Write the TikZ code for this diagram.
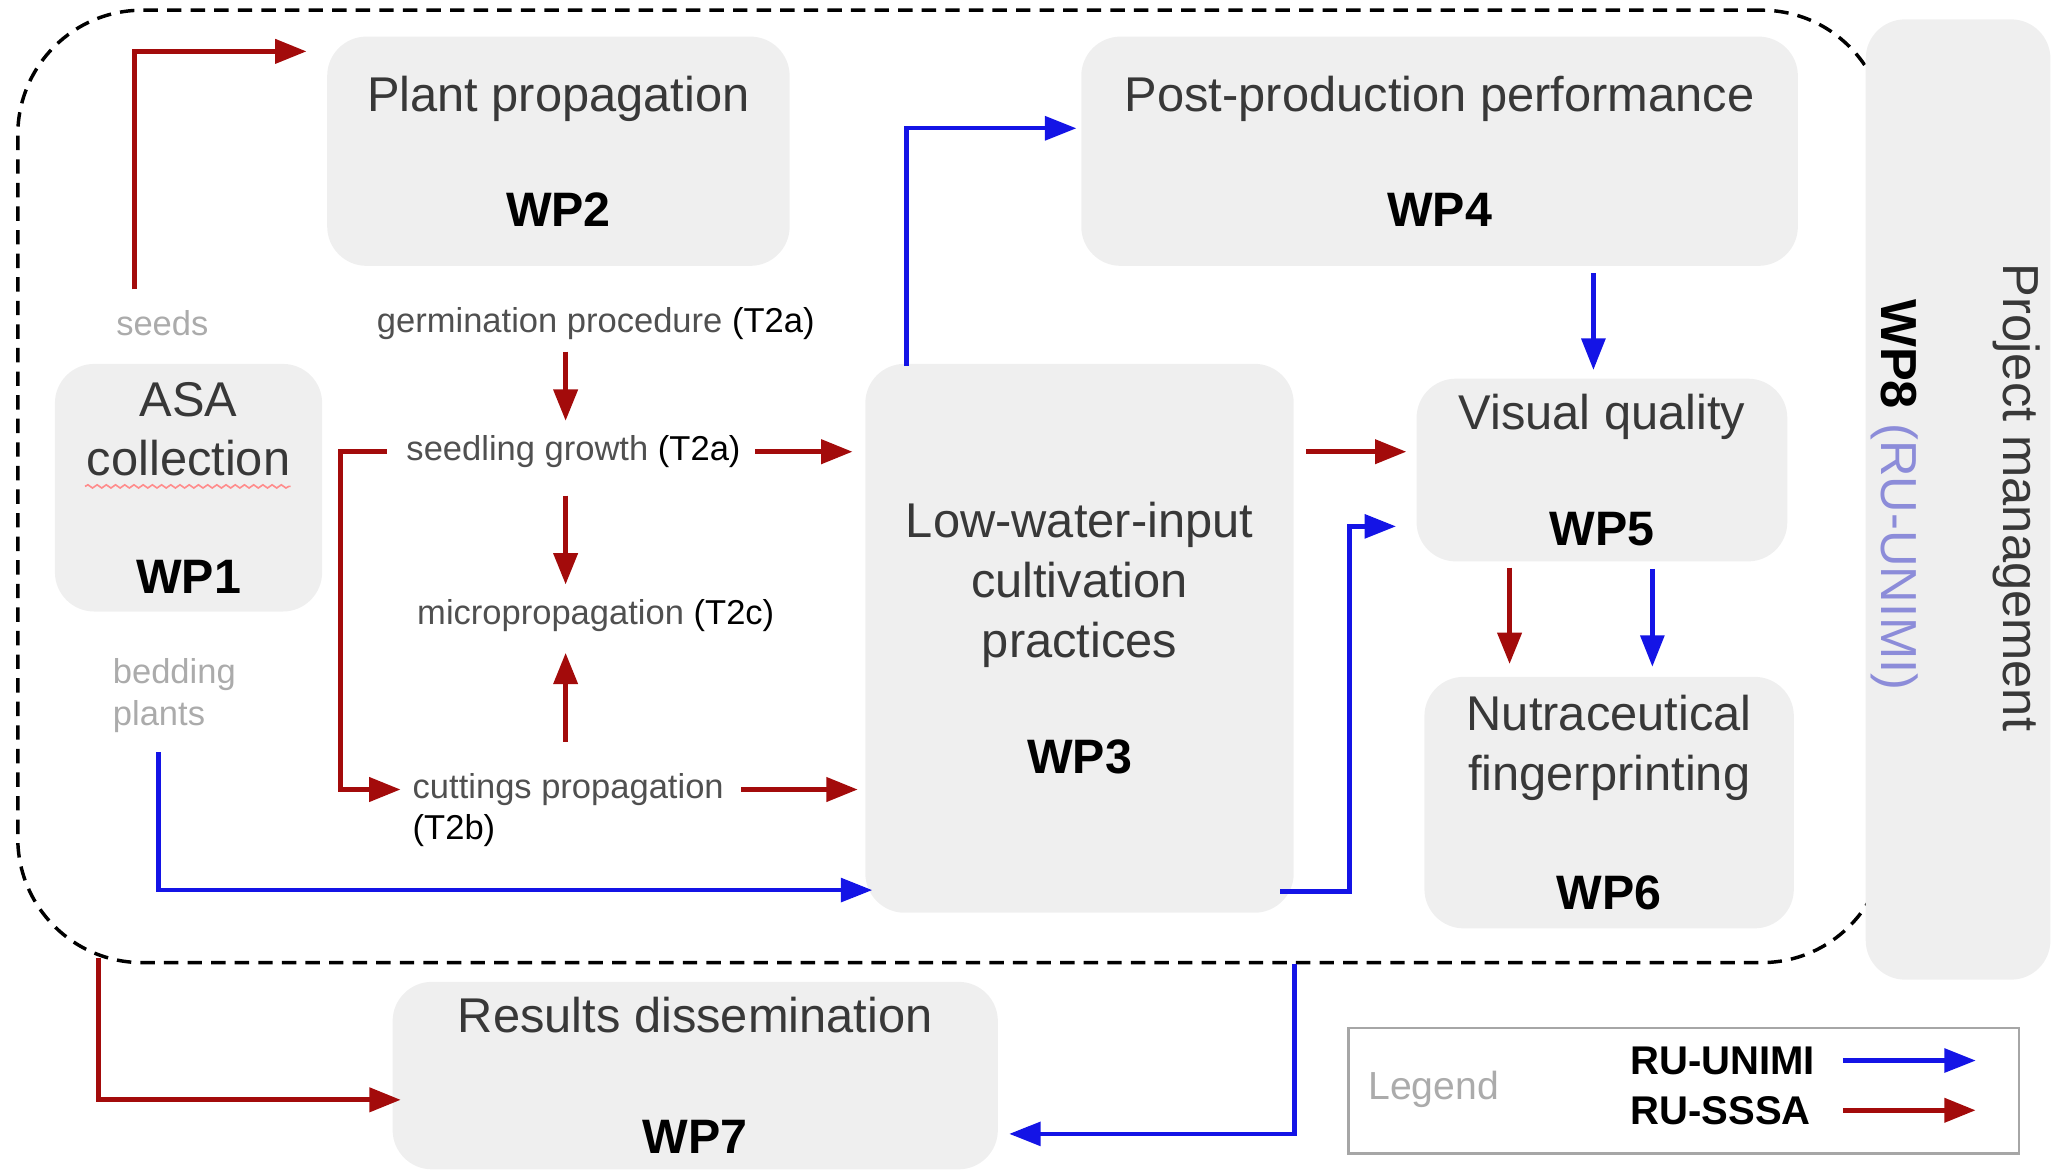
\documentclass[tikz,border=0pt]{standalone}
\usepackage{fontspec}
\setmainfont{Liberation Sans}
\usetikzlibrary{arrows.meta,decorations.pathmorphing}
\definecolor{boxgray}{HTML}{EFEFEF}
\definecolor{sssared}{HTML}{A30B0B}
\definecolor{unimiblue}{HTML}{1414E6}
\definecolor{textgray}{HTML}{383838}
\definecolor{taskgray}{HTML}{505050}
\definecolor{notegray}{HTML}{ABABAB}
\definecolor{wpviolet}{HTML}{8C8CD9}
\newcommand{\wplabel}[1]{{\fontsize{10.5}{13}\selectfont\bfseries\color{black}#1}}
\newcommand{\tcode}[1]{\textcolor{black}{#1}}
\begin{document}
\begin{tikzpicture}[x=0.01cm,y=-0.01cm,
  wpbox/.style={fill=boxgray,rounded corners=0.3cm,align=center,text=textgray,font=\fontsize{10.6}{13}\selectfont},
  task/.style={text=taskgray,font=\fontsize{7.5}{9}\selectfont,inner sep=1pt},
  note/.style={text=notegray,font=\fontsize{7.5}{9.1}\selectfont,inner sep=1pt,align=left},
  sssa/.style={draw=sssared,line width=1.15pt,-{Triangle[length=0.24cm,width=0.18cm]}},
  unimi/.style={draw=unimiblue,line width=0.95pt,-{Triangle[length=0.24cm,width=0.18cm]}}]
\useasboundingbox (0,0) rectangle (1568,894);

% research units area
\node[draw,dash pattern=on 0.11cm off 0.07cm,line width=0.75pt,rounded corners=0.95cm,minimum width=14.26cm,minimum height=7.27cm] (area) at (727,371.5) {};

% work packages
\node[wpbox,minimum width=2.04cm,minimum height=1.89cm] (wp1) at (144,372.5) {ASA\\collection\\[0.44cm]\wplabel{WP1}};
\node[wpbox,minimum width=3.53cm,minimum height=1.75cm] (wp2) at (426.5,115.5) {Plant propagation\\[0.42cm]\wplabel{WP2}};
\node[wpbox,minimum width=3.27cm,minimum height=4.19cm] (wp3) at (824.5,487.5) {Low-water-input\\cultivation\\practices\\[0.43cm]\wplabel{WP3}};
\node[wpbox,minimum width=5.47cm,minimum height=1.75cm] (wp4) at (1099.5,115.5) {Post-production performance\\[0.42cm]\wplabel{WP4}};
\node[wpbox,minimum width=2.83cm,minimum height=1.38cm] (wp5) at (1223.5,359) {Visual quality\\[0.43cm]\wplabel{WP5}};
\node[wpbox,minimum width=2.82cm,minimum height=1.92cm] (wp6) at (1229,613) {Nutraceutical\\fingerprinting\\[0.45cm]\wplabel{WP6}};
\node[wpbox,minimum width=4.62cm,minimum height=1.43cm] (wp7) at (531,821.5) {Results dissemination\\[0.47cm]\wplabel{WP7}};
\node[wpbox,minimum width=1.41cm,minimum height=7.33cm] (wp8) at (1495.5,381.5) {};
\node[rotate=-90,text=textgray,font=\fontsize{11}{13}\selectfont] (pm) at (1540,380) {Project management};
\node[rotate=-90,font=\fontsize{11}{13}\selectfont] (wp8lbl) at (1447,378) {\textbf{WP8} \textcolor{wpviolet}{(RU-UNIMI)}};
\draw[draw=red!45,line width=0.35pt,decorate,decoration={snake,amplitude=0.35pt,segment length=2pt}] ([xshift=-0.79cm,yshift=0.01cm]wp1.center) -- ([xshift=0.78cm,yshift=0.01cm]wp1.center);

% tasks and materials
\node[note] (seeds) at (124,247) {seeds};
\node[note,anchor=west] (bedding) at (82,531) {bedding\\plants};
\node[task] (germ) at (455,247) {germination procedure \tcode{(T2a)}};
\node[task] (seedling) at (438,345) {seedling growth \tcode{(T2a)}};
\node[task] (micro) at (455,470) {micropropagation \tcode{(T2c)}};
\node[task,anchor=west] (cut1) at (311,603) {cuttings propagation};
\node[task,anchor=west,text=black] (cut2) at (311,634) {(T2b)};
\coordinate (spine) at (432,0);

% RU-SSSA arrows
\draw[sssa] ([xshift=-0.21cm,yshift=0.12cm]seeds.north) |- ([xshift=-0.15cm,yshift=-0.12cm]wp2.north west);
\draw[sssa,shorten <=0.05cm,shorten >=0.07cm] (germ.south -| spine) -- (seedling.north -| spine);
\draw[sssa,shorten <=0.17cm,shorten >=0.07cm] (seedling.south -| spine) -- (micro.north -| spine);
\draw[sssa,shorten <=0.2cm,shorten >=0.12cm] (cut1.north -| spine) -- (micro.south -| spine);
\draw[sssa,shorten >=0.05cm] ([xshift=-0.11cm]seedling.west) -- ++(-35,0) |- (cut1.west);
\draw[sssa,shorten <=0.07cm,shorten >=0.09cm] (seedling.east) -- (wp3.west |- seedling.east);
\draw[sssa,shorten <=0.09cm,shorten >=0.05cm] (cut1.east) -- (wp3.west |- cut1.east);
\draw[sssa,shorten <=0.09cm,shorten >=0.07cm] (wp3.east |- seedling.east) -- (wp5.west |- seedling.east);
\coordinate (r56) at ([xshift=-0.705cm]wp5.south);
\draw[sssa,shorten <=0.04cm,shorten >=0.09cm] (r56) -- (r56 |- wp6.north);
\draw[sssa] ([xshift=0.63cm,yshift=0.05cm]area.south west) |- ([xshift=0.07cm,yshift=-0.185cm]wp7.west);

% RU-UNIMI arrows
\draw[unimi] ([xshift=0.32cm,yshift=-0.02cm]wp3.north west) |- ([xshift=-0.03cm,yshift=0.175cm]wp4.west);
\coordinate (b45) at ([xshift=-0.065cm]wp5.north);
\draw[unimi,shorten <=0.05cm,shorten >=0.06cm] (b45 |- wp4.south) -- (b45);
\draw[unimi,shorten >=0.15cm] ([xshift=-0.11cm,yshift=0.17cm]wp3.south east) -- ++(53,0) |- ([yshift=-0.43cm]wp5.west);
\coordinate (b56) at ([xshift=0.385cm]wp5.south);
\draw[unimi,shorten <=0.05cm,shorten >=0.07cm] (b56) -- (b56 |- wp6.north);
\draw[unimi] ([xshift=0.39cm,yshift=-0.11cm]bedding.south west) |- ([xshift=0.06cm,yshift=0.18cm]wp3.south west);
\draw[unimi,shorten >=0.08cm] (wp3.south east |- area.south) |- ([yshift=-0.445cm]wp7.east);

% legend
\node[draw=gray!70,line width=0.5pt,fill=white,minimum width=5.12cm,minimum height=0.96cm] (legend) at (1286,833) {};
\node[text=notegray,font=\fontsize{8.5}{10}\selectfont] (legtitle) at (1095,832) {Legend};
\node[anchor=west,font=\fontsize{8.7}{10}\selectfont\bfseries,inner sep=1pt] (lunimi) at (1241,810) {RU-UNIMI};
\node[anchor=west,font=\fontsize{8.7}{10}\selectfont\bfseries,inner sep=1pt] (lsssa) at (1241,848) {RU-SSSA};
\coordinate (legtail) at ([xshift=0.17cm]lunimi.east);
\coordinate (leghead) at ([xshift=-0.34cm]legend.east);
\draw[unimi] (legtail) -- (leghead |- legtail);
\draw[sssa] (legtail |- lsssa.east) -- (leghead |- lsssa.east);
\end{tikzpicture}
\end{document}
